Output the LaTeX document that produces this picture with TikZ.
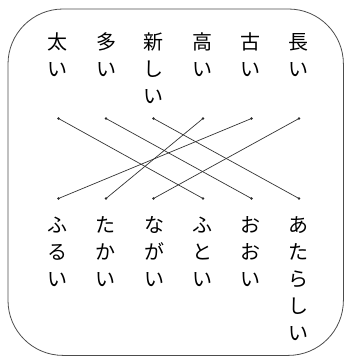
\documentclass[tikz,border=0pt]{standalone}
\usepackage{fontspec}
\newfontfamily\cjk{Noto Sans CJK JP}
\begin{document}
\begin{tikzpicture}[x=1pt,y=-1pt,
  word/.style={anchor=north, inner sep=0pt, align=center, font=\cjk\fontsize{20}{27}\selectfont},
  dot/.style={circle, fill=black!85, inner sep=0pt, minimum size=2.8pt},
  link/.style={draw=black!80, line width=0.7pt},
  frame/.style={draw=black!70, line width=0.8pt, rounded corners=55pt}]
\useasboundingbox (0,0) rectangle (344,356);
\draw[frame] (8,9) rectangle (343.4,355.4);
% top words
\node[word] (w1) at (57,30.7) {\strut 太\\\strut い};
\node[word] (w2) at (106,30.7) {\strut 多\\\strut い};
\node[word] (w3) at (153,30.7) {\strut 新\\\strut し\\\strut い};
\node[word] (w4) at (202,30.7) {\strut 高\\\strut い};
\node[word] (w5) at (250,30.7) {\strut 古\\\strut い};
\node[word] (w6) at (298,30.7) {\strut 長\\\strut い};
% bottom words
\node[word] (v1) at (57,213.7) {\strut ふ\\\strut る\\\strut い};
\node[word] (v2) at (105,213.7) {\strut た\\\strut か\\\strut い};
\node[word] (v3) at (154,213.7) {\strut な\\\strut が\\\strut い};
\node[word] (v4) at (202,213.7) {\strut ふ\\\strut と\\\strut い};
\node[word] (v5) at (250,213.7) {\strut お\\\strut お\\\strut い};
\node[word] (v6) at (298,213.7) {\strut あ\\\strut た\\\strut ら\\\strut し\\\strut い};
% dots
\node[dot] (t1) at (58.5,118.5) {};
\node[dot] (t2) at (106,118.5) {};
\node[dot] (t3) at (153.5,118.5) {};
\node[dot] (t4) at (203,118.5) {};
\node[dot] (t5) at (251.5,118.5) {};
\node[dot] (t6) at (299,118.5) {};
\node[dot] (b1) at (58.5,198.5) {};
\node[dot] (b2) at (106,198.5) {};
\node[dot] (b3) at (153.5,198.5) {};
\node[dot] (b4) at (203,198.5) {};
\node[dot] (b5) at (251.5,198.5) {};
\node[dot] (b6) at (299,198.5) {};
% links
\draw[link] (t1.center) -- (b4.center);
\draw[link] (t2.center) -- (b5.center);
\draw[link] (t3.center) -- (b6.center);
\draw[link] (t4.center) -- (b2.center);
\draw[link] (t5.center) -- (b1.center);
\draw[link] (t6.center) -- (b3.center);
\end{tikzpicture}
\end{document}
